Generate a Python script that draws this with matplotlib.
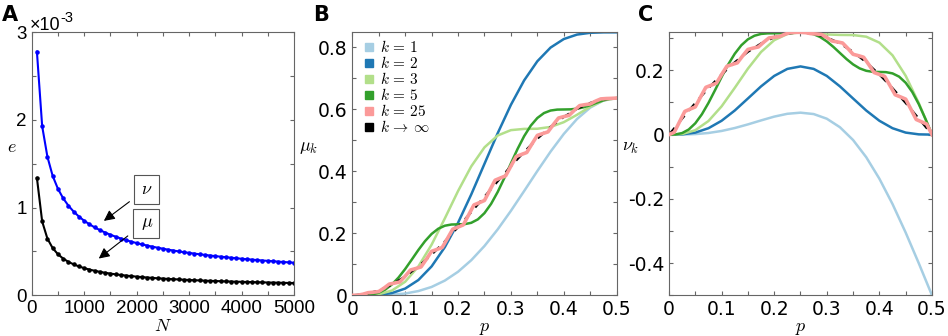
import numpy as np
import matplotlib
matplotlib.use('Agg')
import matplotlib.pyplot as plt
from matplotlib.ticker import MultipleLocator, FuncFormatter
from matplotlib.lines import Line2D

plt.rcParams['mathtext.fontset'] = 'cm'
plt.rcParams['axes.unicode_minus'] = False

#====== Panel A: error vs N (values x 1e-3)
N = np.arange(100, 5001, 100)
e_nu = [2.780, 1.930, 1.581, 1.363, 1.216, 1.107, 1.023, 0.955, 0.899, 0.851,
        0.811, 0.775, 0.744, 0.716, 0.691, 0.669, 0.648, 0.629, 0.612, 0.596,
        0.581, 0.568, 0.555, 0.543, 0.532, 0.521, 0.511, 0.501, 0.492, 0.484,
        0.476, 0.468, 0.461, 0.454, 0.447, 0.441, 0.435, 0.429, 0.423, 0.417,
        0.412, 0.407, 0.402, 0.397, 0.393, 0.389, 0.384, 0.380, 0.376, 0.372]
e_mu = [1.340, 0.843, 0.647, 0.539, 0.469, 0.419, 0.382, 0.353, 0.330, 0.310,
        0.294, 0.280, 0.268, 0.257, 0.248, 0.239, 0.232, 0.225, 0.219, 0.213,
        0.208, 0.203, 0.199, 0.194, 0.191, 0.187, 0.184, 0.181, 0.178, 0.175,
        0.172, 0.170, 0.167, 0.165, 0.163, 0.161, 0.159, 0.157, 0.155, 0.154,
        0.152, 0.151, 0.149, 0.148, 0.146, 0.145, 0.144, 0.142, 0.141, 0.140]

#====== Panels B, C: mu_k(p), nu_k(p)
p_a = np.linspace(0, 0.5, 21)    # k = 1, 2, 3, inf
p_b = np.linspace(0, 0.5, 41)    # k = 5
p_c = np.linspace(0, 0.5, 51)    # k = 25

mu_1 = [0, 0.0000, 0.0004, 0.0019, 0.0058, 0.0137, 0.0270, 0.0475, 0.0760, 0.1133, 0.1592,
        0.2128, 0.2727, 0.3365, 0.4012, 0.4638, 0.5208, 0.5691, 0.6058, 0.6288, 0.6366]
nu_1 = [0, 0.0002, 0.0016, 0.0051, 0.0114, 0.0205, 0.0318, 0.0442, 0.0560, 0.0648, 0.0683,
        0.0640, 0.0495, 0.0230, -0.0168, -0.0703, -0.1372, -0.2161, -0.3049, -0.4006, -0.5]
mu_2 = [0, 0.0001, 0.0015, 0.0073, 0.0217, 0.0493, 0.0933, 0.1553, 0.2340, 0.3256, 0.4244,
        0.5232, 0.6149, 0.6936, 0.7555, 0.7996, 0.8271, 0.8415, 0.8473, 0.8487, 0.8488]
nu_2 = [0, 0.0008, 0.0063, 0.0199, 0.0431, 0.0750, 0.1124, 0.1501, 0.1826, 0.2045, 0.2122,
        0.2045, 0.1826, 0.1501, 0.1124, 0.0750, 0.0431, 0.0199, 0.0063, 0.0008, 0]
mu_3 = [0, 0.0002, 0.0033, 0.0154, 0.0438, 0.0932, 0.1634, 0.2481, 0.3364, 0.4162, 0.4775,
        0.5158, 0.5331, 0.5371, 0.5376, 0.5434, 0.5588, 0.5826, 0.6087, 0.6290, 0.6366]
nu_3 = [0, 0.0018, 0.0137, 0.0423, 0.0880, 0.1455, 0.2052, 0.2571, 0.2938, 0.3132, 0.3183,
        0.3156, 0.3117, 0.3102, 0.3098, 0.3047, 0.2862, 0.2467, 0.1830, 0.0978, 0]
mu_inf = [0, 0.0039, 0.0156, 0.0347, 0.0608, 0.0932, 0.1312, 0.1738, 0.2200, 0.2685, 0.3183,
          0.3681, 0.4167, 0.4628, 0.5054, 0.5434, 0.5758, 0.6019, 0.6210, 0.6327, 0.6366]
nu_inf = [0, 0.0498, 0.0984, 0.1445, 0.1871, 0.2251, 0.2575, 0.2836, 0.3027, 0.3144, 0.3183,
          0.3144, 0.3027, 0.2836, 0.2575, 0.2251, 0.1871, 0.1445, 0.0984, 0.0498, 0]
mu_5 = [0, 0.0000, 0.0006, 0.0028, 0.0084, 0.0187, 0.0350, 0.0574, 0.0848, 0.1153, 0.1463,
        0.1747, 0.1981, 0.2148, 0.2246, 0.2285, 0.2291, 0.2297, 0.2340, 0.2451, 0.2653,
        0.2951, 0.3336, 0.3783, 0.4258, 0.4721, 0.5136, 0.5475, 0.5723, 0.5882, 0.5964,
        0.5994, 0.5998, 0.6002, 0.6023, 0.6069, 0.6138, 0.6219, 0.6294, 0.6347, 0.6366]
nu_5 = [0, 0.0006, 0.0049, 0.0159, 0.0353, 0.0633, 0.0985, 0.1383, 0.1793, 0.2181, 0.2516,
        0.2780, 0.2965, 0.3077, 0.3133, 0.3151, 0.3153, 0.3155, 0.3163, 0.3176, 0.3183,
        0.3171, 0.3125, 0.3035, 0.2901, 0.2730, 0.2540, 0.2351, 0.2185, 0.2061, 0.1986,
        0.1954, 0.1949, 0.1944, 0.1905, 0.1804, 0.1614, 0.1327, 0.0946, 0.0493, 0]
mu_25 = [0, 0.0003, 0.0035, 0.0085, 0.0100, 0.0121, 0.0233, 0.0362, 0.0394, 0.0432, 0.0617,
         0.0817, 0.0864, 0.0916, 0.1162, 0.1420, 0.1480, 0.1543, 0.1835, 0.2135, 0.2203,
         0.2273, 0.2593, 0.2916, 0.2988, 0.3061, 0.3388, 0.3714, 0.3786, 0.3856, 0.4170,
         0.4479, 0.4546, 0.4610, 0.4891, 0.5162, 0.5220, 0.5274, 0.5505, 0.5722, 0.5768,
         0.5807, 0.5973, 0.6123, 0.6153, 0.6176, 0.6266, 0.6339, 0.6351, 0.6357, 0.6366]
nu_25 = [0, 0.0073, 0.0398, 0.0722, 0.0793, 0.0862, 0.1170, 0.1471, 0.1536, 0.1598, 0.1868,
         0.2127, 0.2182, 0.2233, 0.2449, 0.2650, 0.2692, 0.2728, 0.2876, 0.3007, 0.3032,
         0.3051, 0.3122, 0.3174, 0.3182, 0.3183, 0.3172, 0.3142, 0.3132, 0.3115, 0.3022,
         0.2913, 0.2885, 0.2851, 0.2683, 0.2500, 0.2457, 0.2408, 0.2176, 0.1931, 0.1874,
         0.1813, 0.1531, 0.1240, 0.1174, 0.1105, 0.0790, 0.0471, 0.0400, 0.0327, 0]

k_labels = [r'$k\,=\,1$', r'$k\,=\,2$', r'$k\,=\,3$', r'$k\,=\,5$', r'$k\,=\,25$',
            r'$k\,\to\,\infty$']
k_colors = ['#a6cee3', '#1f78b4', '#b2df8a', '#33a02c', '#fb9a99', 'black']

spine_col = '#666666'

def style_axes(ax, xmin, ymin, family, size):
    for s in ax.spines.values():
        s.set_color(spine_col)
        s.set_linewidth(0.8)
    ax.xaxis.set_minor_locator(MultipleLocator(xmin))
    ax.yaxis.set_minor_locator(MultipleLocator(ymin))
    ax.tick_params(which='both', direction='in', top=True, right=True,
                   length=3, width=0.8, color=spine_col)
    ax.tick_params(which='major', labelsize=size, pad=3.5)
    for lab in ax.get_xticklabels() + ax.get_yticklabels():
        lab.set_family(family)

fmt = FuncFormatter(lambda v, pos: '0' if abs(v) < 1e-9 else '%g' % v)

fig = plt.figure(figsize=(9.48, 3.36), dpi=100)
axA = fig.add_axes([0.0334, 0.1211, 0.2767, 0.7827])
axB = fig.add_axes([0.3716, 0.1211, 0.2789, 0.7827])
axC = fig.add_axes([0.7057, 0.1211, 0.2774, 0.7827])

# ---- A
axA.plot(N, e_nu, '-', color='#0000ff', lw=1.5, marker='.', ms=4.5)
axA.plot(N, e_mu, '-', color='black', lw=1.5, marker='.', ms=4.5)
axA.set_xlim(0, 5000)
axA.set_ylim(0, 3)
axA.set_xticks([0, 1000, 2000, 3000, 4000, 5000])
axA.set_yticks([0, 1, 2, 3])
style_axes(axA, 500, 0.5, 'Liberation Sans', 13.5)
axA.set_xlabel(r'$N$', fontsize=13, labelpad=0)
axA.set_ylabel(r'$e$', fontsize=13, rotation=0)
axA.yaxis.set_label_coords(-0.075, 0.53)
t_off = axA.text(-0.006, 1.009, '\u00d710', transform=axA.transAxes, fontsize=13,
                 family='Liberation Sans', ha='left', va='baseline')
axA.annotate('-3', xy=(1.0, 0.55), xycoords=t_off, fontsize=10.5,
             family='Liberation Sans', ha='left', va='bottom')

box = dict(boxstyle='square,pad=0.3', fc='white', ec='#555555', lw=0.8)
axA.text(2183, 1.21, r'$\,\nu\,$', fontsize=13, ha='center', va='center', bbox=box)
axA.text(2183, 0.82, r'$\,\mu\,$', fontsize=13, ha='center', va='center', bbox=box)
arr = dict(arrowstyle='-|>', color='black', lw=0.8, mutation_scale=16)
axA.annotate('', xy=(1334, 0.83), xytext=(1906, 1.087), arrowprops=arr)
axA.annotate('', xy=(1237, 0.40), xytext=(1874, 0.697), arrowprops=arr)

# ---- B and C
series_mu = [(p_a, mu_1), (p_a, mu_2), (p_a, mu_3), (p_b, mu_5), (p_c, mu_25), (p_a, mu_inf)]
series_nu = [(p_a, nu_1), (p_a, nu_2), (p_a, nu_3), (p_b, nu_5), (p_c, nu_25), (p_a, nu_inf)]
for ax, series in [(axB, series_mu), (axC, series_nu)]:
    for i, (x, y) in enumerate(series):
        if i == 5:
            ax.plot(x, y, color='black', lw=1.6, ls=(0, (4, 3)), zorder=2)
        elif i == 4:
            ax.plot(x, y, color=k_colors[i], lw=2.6, zorder=3)
        else:
            ax.plot(x, y, color=k_colors[i], lw=1.8, zorder=2)
    ax.set_xlim(0, 0.5)
    ax.set_xticks([0, 0.1, 0.2, 0.3, 0.4, 0.5])
    ax.xaxis.set_major_formatter(fmt)
    ax.yaxis.set_major_formatter(fmt)
    ax.set_xlabel(r'$p$', fontsize=13, labelpad=0)

axB.set_ylim(0, 0.8488)
axB.set_yticks([0, 0.2, 0.4, 0.6, 0.8])
style_axes(axB, 0.05, 0.1, 'DejaVu Sans', 13.5)
axB.set_ylabel(r'$\mu_k$', fontsize=13, rotation=0)
axB.yaxis.set_label_coords(-0.165, 0.53)

axC.set_ylim(-0.5, 0.3183)
axC.set_yticks([-0.4, -0.2, 0, 0.2])
style_axes(axC, 0.05, 0.1, 'DejaVu Sans', 13.5)
axC.set_ylabel(r'$\nu_k$', fontsize=13, rotation=0)
axC.yaxis.set_label_coords(-0.145, 0.53)

handles = [Line2D([], [], ls='none', marker='s', ms=6, color=c) for c in k_colors]
axB.legend(handles, k_labels, loc='upper left', bbox_to_anchor=(0.005, 1.01),
           frameon=False, fontsize=11, labelspacing=0.0, handletextpad=0.3,
           handlelength=0.8, borderaxespad=0.2)

for lab, x in [('A', 0.002), ('B', 0.330), ('C', 0.673)]:
    fig.text(x, 0.985, lab, fontsize=15, fontweight='bold', ha='left', va='top')

fig.savefig('out.png', dpi=100)
